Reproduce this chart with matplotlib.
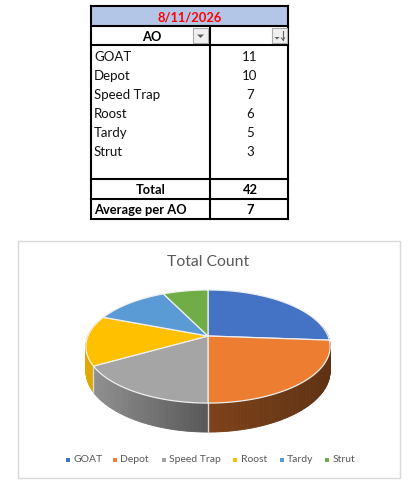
import numpy as np
import matplotlib
matplotlib.use("Agg")
import matplotlib.pyplot as plt
from matplotlib.patches import Polygon, Rectangle

plt.rcParams['font.family'] = ['Lato', 'DejaVu Sans']

# Data
date_label = "8/11/2026"
categories = ["GOAT", "Depot", "Speed Trap", "Roost", "Tardy", "Strut"]
counts = [11, 10, 7, 6, 5, 3]
total_label = "Total"
total_value = 42
average_label = "Average per AO"
average_value = 7
chart_title = "Total Count"
colors = ["#4472C4", "#ED7D31", "#A5A5A5", "#FFC000", "#5B9BD5", "#70AD47"]

W, H = 407, 487
fig = plt.figure(figsize=(W / 100, H / 100), dpi=100)
ax = fig.add_axes([0, 0, 1, 1])
ax.set_xlim(0, W)
ax.set_ylim(H, 0)
ax.axis("off")

# ---------- Table ----------
L, R, MID = 91, 288, 210
ROWS = [6, 26, 45, 179, 199, 219]
ax.add_patch(Rectangle((L, ROWS[0]), R - L, ROWS[1] - ROWS[0], fc="#B4C6E7", ec="none", zorder=1))
black = dict(color="black", lw=1.5, zorder=3, solid_capstyle="projecting")
for y in ROWS:
    ax.plot([L, R], [y, y], **black)
ax.plot([L, L], [ROWS[0], ROWS[-1]], **black)
ax.plot([R, R], [ROWS[0], ROWS[-1]], **black)
ax.plot([MID, MID], [ROWS[1], ROWS[-1]], **black)

FS = 9.5
FB = 9.3
DY = 0.8
ax.text((L + R) / 2, 16.5 + DY, date_label, color="#FF0000", fontsize=FB, fontweight="bold", ha="center", va="center")
ax.text(152, 36 + DY, "AO", color="black", fontsize=FB, fontweight="bold", ha="center", va="center")
for i, (c, v) in enumerate(zip(categories, counts)):
    y = 56 + i * 19 + DY
    ax.text(94, y, c, color="#111111", fontsize=FS, ha="left", va="center")
    ax.text(250, y, str(v), color="#111111", fontsize=FS, ha="center", va="center")
ax.text(151, 189 + DY, total_label, color="black", fontsize=FB, fontweight="bold", ha="center", va="center")
ax.text(250, 189 + DY, str(total_value), color="black", fontsize=FB, fontweight="bold", ha="center", va="center")
ax.text(94, 209 + DY, average_label, color="black", fontsize=FB, fontweight="bold", ha="left", va="center")
ax.text(250, 209 + DY, str(average_value), color="black", fontsize=FB, fontweight="bold", ha="center", va="center")

# filter buttons
for bx in (193, 272):
    ax.add_patch(Rectangle((bx, 28), 15, 15, fc="#F0F0F0", ec="#ABABAB", lw=0.8, zorder=4))
ax.add_patch(Polygon([[197, 34.5], [204, 34.5], [200.5, 38]], fc="#606060", ec="none", zorder=5))
ax.add_patch(Polygon([[274.5, 37], [279.5, 37], [277, 39.5]], fc="#606060", ec="none", zorder=5))
ax.plot([283, 283], [31, 40], color="#606060", lw=0.8, zorder=5)
ax.plot([281.5, 283, 284.5], [38, 40, 38], color="#606060", lw=0.8, zorder=5)

# ---------- Chart frame ----------
ax.add_patch(Rectangle((18, 241), 382, 237, fc="white", ec="#D9D9D9", lw=1, zorder=0.5))
ax.text(208, 262.5, chart_title, color="#595959", fontsize=11.3, ha="center", va="center")

# ---------- 3-D pie (perspective projection of a disc) ----------
CX, CY, A, B, K, DEPTH = 208, 336, 120, 54.6, 0.186, 23.6


def project(theta):
    X, Y = np.sin(theta), np.cos(theta)
    d = 1 + K * Y
    return CX + A * X / d, CY - B * Y / d, DEPTH / d


def shade(hexcol, x):
    m = np.interp(x, [90, 208, 330], [0.88, 0.53, 0.40])
    return tuple(np.array(matplotlib.colors.to_rgb(hexcol)) * m)


edges = np.concatenate([[0], np.cumsum(counts)]) / np.sum(counts) * 2 * np.pi

# side wall
for col, a0, a1 in zip(colors, edges[:-1], edges[1:]):
    lo, hi = max(a0, np.radians(80)), min(a1, np.radians(285))
    if hi <= lo:
        continue
    ts = np.linspace(lo, hi, max(2, int((hi - lo) * 60)))
    for t0, t1 in zip(ts[:-1], ts[1:]):
        x0, y0, d0 = project(t0)
        x1, y1, d1 = project(t1)
        c = shade(col, (x0 + x1) / 2)
        ax.add_patch(Polygon([[x0, y0], [x1, y1], [x1, y1 + d1], [x0, y0 + d0]],
                             fc=c, ec=c, lw=0.6, zorder=6))
# seam lines on the wall
for a in edges[1:-1]:
    if np.radians(120) < a < np.radians(285):
        x, y, d = project(a)
        ax.plot([x, x], [y, y + d], color="#D8D8D8", lw=1, zorder=7)

# top face
for col, a0, a1 in zip(colors, edges[:-1], edges[1:]):
    ts = np.linspace(a0, a1, 120)
    x, y, _ = project(ts)
    pts = np.vstack([[CX, CY], np.column_stack([x, y])])
    ax.add_patch(Polygon(pts, closed=True, fc=col, ec="#EFEFEF", lw=0.9, zorder=8, joinstyle="round"))

# ---------- Legend ----------
legend_marker_x = [68, 114.7, 163.5, 235, 281.7, 327]
for mx, c, col in zip(legend_marker_x, categories, colors):
    ax.add_patch(Rectangle((mx - 2, 457.5), 4, 4, fc=col, ec="none", zorder=9))
    ax.text(mx + 5.5, 459.8, c, color="#595959", fontsize=7.5, ha="left", va="center")

fig.savefig("out.png", dpi=100, facecolor="white")
